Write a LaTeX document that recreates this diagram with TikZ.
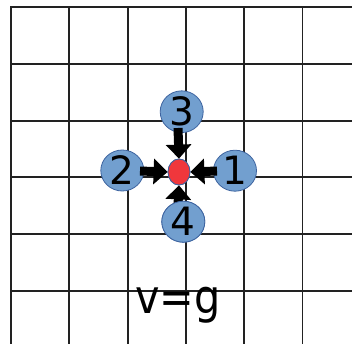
\documentclass[tikz,border=0pt]{standalone}
\usepackage{fontspec}
\setmainfont{DejaVu Sans}
\usetikzlibrary{arrows.meta,shapes.geometric}
\definecolor{nodeblue}{RGB}{114,159,207}
\definecolor{edgeblue}{RGB}{62,100,160}
\definecolor{dotred}{RGB}{240,55,60}
\definecolor{gridc}{RGB}{34,34,34}
\tikzset{
  gridline/.style={draw=gridc, line width=1.8pt},
  numnode/.style={ellipse, draw=edgeblue, line width=0.8pt, fill=nodeblue, minimum width=43pt, minimum height=41pt, inner sep=0pt, font=\fontsize{39}{39}\selectfont},
  center dot/.style={ellipse, draw=edgeblue, line width=0.8pt, fill=dotred, minimum width=22pt, minimum height=26pt, inner sep=0pt},
  bigarrow/.style={line width=9pt, -{Triangle[width=25pt,length=14pt]}, black}
}
\begin{document}
\begin{tikzpicture}[x=1pt,y=-1pt]
\useasboundingbox[fill=white] (0,0) rectangle (352,344);
\begin{scope}
\clip (0,0) rectangle (352,344);
\foreach \y in {7.3,64,120.7,177.3,234,290.7}
  \draw[gridline] (10.1,\y) -- (360,\y);
\foreach \x in {11,69.3,127.6,185.9,244.2,302.5}
  \draw[gridline] (\x,6.4) -- (\x,350);
\end{scope}
\node[center dot] (d) at (179,172) {};
\node[numnode] (n1) at (235,170.7) {1};
\node[numnode] (n2) at (122.3,170.5) {2};
\node[numnode] (n3) at (181.7,111.7) {3};
\node[numnode] (n4) at (183.3,221.7) {4};
\coordinate (s3) at (178,128);
\coordinate (s2) at (140,171);
\coordinate (s1) at (217,171);
\coordinate (s4) at (178,205);
\draw[bigarrow] (s3) -- (d.north);
\draw[bigarrow] (s2) -- (d.west);
\draw[bigarrow] (s1) -- (d.east);
\draw[bigarrow] (s4) -- (d.south);
\node[center dot] at (d) {};
\node[numnode] at (n4) {4};
\node[inner sep=0pt] (t) at (178,305) {\scalebox{0.88}[1]{\fontsize{47}{47}\selectfont v=g}};
\end{tikzpicture}
\end{document}
